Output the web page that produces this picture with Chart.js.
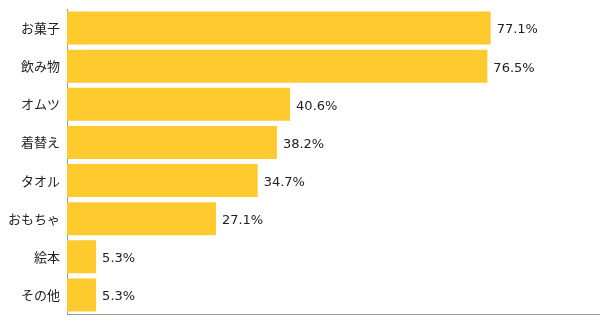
<!DOCTYPE html>
<html>
<head>
<meta charset="utf-8">
<script src="https://cdn.jsdelivr.net/npm/chart.js@4"></script>
<style>
  body { margin: 0; background: #fff; }
</style>
</head>
<body>
<canvas id="myChart" width="600" height="323"></canvas>
<script>
const labels = ['お菓子', '飲み物', 'オムツ', '着替え', 'タオル', 'おもちゃ', '絵本', 'その他'];
const values = [77.1, 76.5, 40.6, 38.2, 34.7, 27.1, 5.3, 5.3];

// percent labels at the end of each bar
const valueLabels = {
  id: 'valueLabels',
  afterDatasetsDraw(chart) {
    const ctx = chart.ctx;
    const meta = chart.getDatasetMeta(0);
    ctx.save();
    ctx.font = '13px "DejaVu Sans", sans-serif';
    ctx.fillStyle = '#222';
    ctx.textAlign = 'left';
    ctx.textBaseline = 'middle';
    meta.data.forEach((bar, i) => {
      ctx.fillText(values[i].toFixed(1) + '%', bar.x + 6, bar.y + 2);
    });
    ctx.restore();
  }
};

const ctx = document.getElementById('myChart');
new Chart(ctx, {
  type: 'bar',
  data: {
    labels: labels,
    datasets: [{
      data: values,
      backgroundColor: '#FFCA2E',
      borderWidth: 0,
      barPercentage: 0.866,
      categoryPercentage: 1
    }]
  },
  options: {
    responsive: false,
    animation: false,
    indexAxis: 'y',
    layout: { padding: { top: 9, bottom: 9, left: 0, right: 0 } },
    plugins: {
      legend: { display: false },
      tooltip: { enabled: false }
    },
    scales: {
      x: {
        min: 0,
        max: 97,
        afterFit(scale) { scale.height = 0; scale.paddingLeft = 0; scale.paddingRight = 0; },
        ticks: { display: false },
        grid: { display: false, drawTicks: false },
        border: { display: true, color: '#999', width: 1 }
      },
      y: {
        afterFit(scale) { scale.width = 67; scale.paddingTop = 0; scale.paddingBottom = 0; },
        ticks: {
          color: '#222',
          padding: 7,
          font: { family: '"Noto Sans CJK JP", sans-serif', size: 13 }
        },
        grid: { display: false, drawTicks: false },
        border: { display: true, color: '#999', width: 1 }
      }
    }
  },
  plugins: [valueLabels]
});
</script>
</body>
</html>
